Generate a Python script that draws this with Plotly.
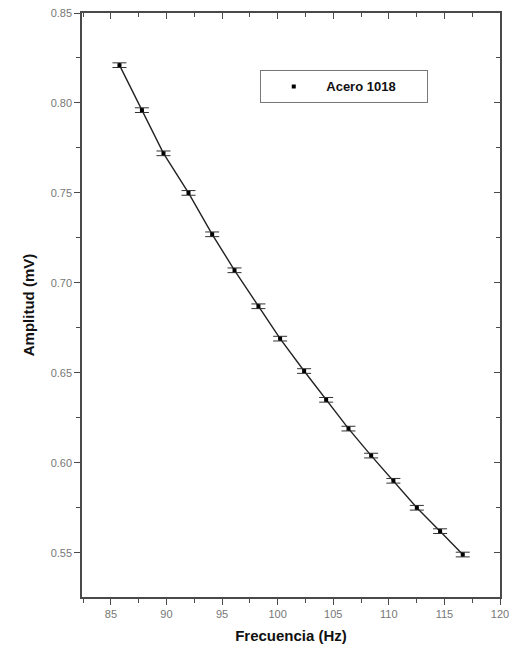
import plotly.graph_objects as go

frecuencia = [85.77, 87.79, 89.73, 91.98, 94.11, 96.12, 98.27, 100.22,
              102.38, 104.36, 106.37, 108.41, 110.41, 112.52, 114.61, 116.65]
amplitud = [0.821, 0.796, 0.772, 0.750, 0.727, 0.707, 0.687, 0.669,
            0.651, 0.635, 0.619, 0.604, 0.590, 0.575, 0.562, 0.549]
error_amp = [0.0013] * len(amplitud)

serie = "Acero 1018"
x_title = "Frecuencia (Hz)"
y_title = "Amplitud (mV)"
x_ticks = [85, 90, 95, 100, 105, 110, 115, 120]
y_ticks = [0.55, 0.60, 0.65, 0.70, 0.75, 0.80, 0.85]

XR = [82.4, 120]
YR = [0.5254, 0.85]
axis_col = "#4a4a4a"
font = "Liberation Sans, Arial, sans-serif"

fig = go.Figure()
fig.add_trace(go.Scatter(x=frecuencia, y=amplitud, mode="lines",
                         line=dict(color="#222222", width=1.4),
                         showlegend=False, hoverinfo="skip"))
fig.add_trace(go.Scatter(x=frecuencia, y=amplitud, mode="markers", name=serie,
                         marker=dict(symbol="square", size=4, color="black"),
                         error_y=dict(type="data", array=error_amp, visible=True,
                                      color="#333333", thickness=1, width=7)))
# invisible trace for mirrored axes
fig.add_trace(go.Scatter(x=[XR[0]], y=[YR[0]], xaxis="x2", yaxis="y2",
                         mode="markers", marker=dict(opacity=0),
                         showlegend=False, hoverinfo="skip"))

common = dict(showline=True, linecolor=axis_col, linewidth=1.5, showgrid=False,
              zeroline=False, ticklen=6, tickwidth=1.2, tickcolor=axis_col,
              automargin=False)

fig.update_layout(
    width=514, height=655,
    margin=dict(l=82, r=14, t=13, b=58),
    paper_bgcolor="white", plot_bgcolor="white",
    font=dict(family=font, color="#666666", size=11),
    xaxis=dict(range=XR, tickvals=x_ticks, ticks="outside",
               minor=dict(dtick=2.5, tick0=0, ticks="outside", ticklen=4,
                          tickcolor=axis_col, tickwidth=1.2),
               title=dict(text=x_title, font=dict(size=15, color="#111111",
                                                   family=font, weight="bold"),
                          standoff=12),
               tickfont=dict(size=11, color="#777777"), **common),
    yaxis=dict(range=YR, tickvals=y_ticks, tickformat=".2f", ticks="outside",
               minor=dict(dtick=0.025, tick0=0, ticks="outside", ticklen=4,
                          tickcolor=axis_col, tickwidth=1.2),
               title=dict(text=y_title, font=dict(size=15, color="#111111",
                                                   family=font, weight="bold"),
                          standoff=12),
               tickfont=dict(size=11, color="#777777"), **common),
    xaxis2=dict(range=XR, overlaying="x", side="top", tickvals=x_ticks,
                ticks="inside", showticklabels=False,
                minor=dict(dtick=2.5, tick0=0, ticks="inside", ticklen=4,
                           tickcolor=axis_col, tickwidth=1.2),
                **common),
    yaxis2=dict(range=YR, overlaying="y", side="right", tickvals=y_ticks,
                ticks="inside", showticklabels=False,
                minor=dict(dtick=0.025, tick0=0, ticks="inside", ticklen=4,
                           tickcolor=axis_col, tickwidth=1.2),
                **common),
    legend=dict(x=0.426, y=0.902, xanchor="left", yanchor="top",
                orientation="h", entrywidth=95, itemwidth=55,
                bgcolor="white", bordercolor="#777777", borderwidth=1.2,
                font=dict(size=13, color="#111111", family=font, weight="bold")),
)

fig.write_html("out.html",
               config={"displayModeBar": False},
               post_script="document.body.style.margin='0';"
                           "document.body.style.overflow='hidden';")
